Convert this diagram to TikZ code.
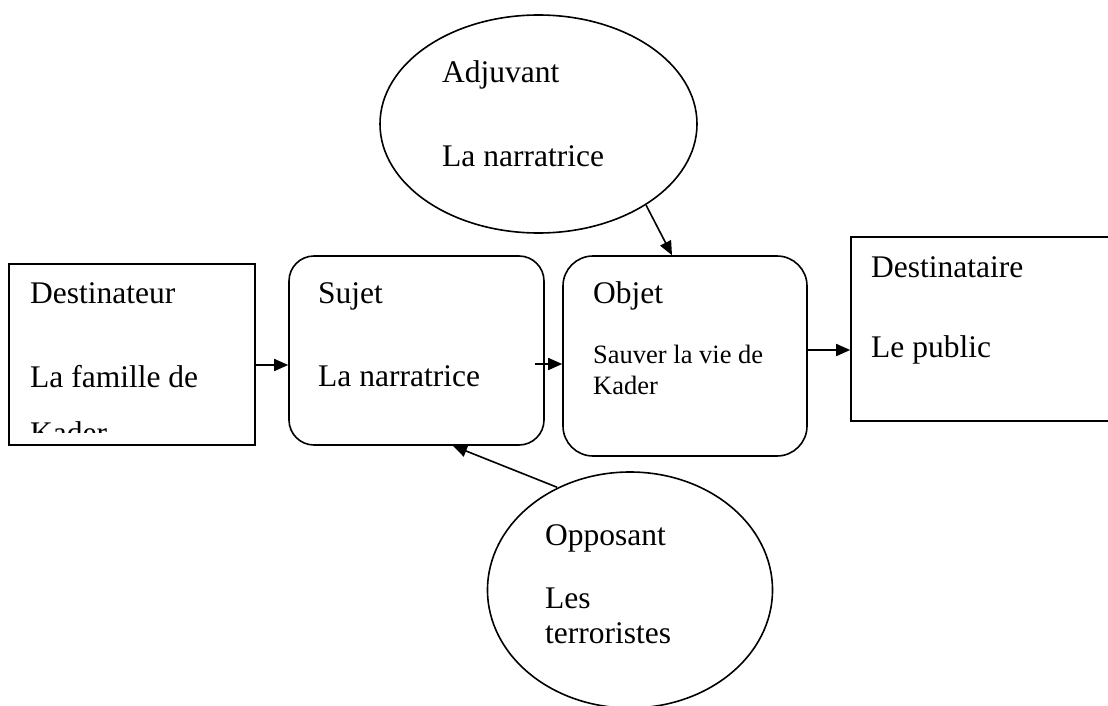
\documentclass[tikz,border=0pt]{standalone}
\usepackage{fontspec}
\setmainfont{Liberation Serif}
\usetikzlibrary{shapes.geometric,arrows.meta}
\begin{document}
\begin{tikzpicture}[x=1pt,y=-1pt,
  box/.style={draw,line width=1.6pt,rectangle,inner sep=0pt},
  rbox/.style={box,rounded corners=#1},
  oval/.style={draw,line width=1.6pt,ellipse,inner sep=0pt},
  lbl/.style={anchor=base west,inner sep=0pt,font=\fontsize{31.5}{38}\selectfont},
  slbl/.style={anchor=base west,inner sep=0pt,font=\fontsize{26.5}{32}\selectfont},
  arr/.style={line width=1.6pt,-{Triangle[length=14pt,width=12pt]}}]
\useasboundingbox (0,0) rectangle (1108,706);
\clip (0,0) rectangle (1108,706);

% shapes
\node[box,minimum width=246pt,minimum height=181pt] (destinateur) at (132,354.5) {};
\node[rbox=25pt,minimum width=255pt,minimum height=189pt] (sujet) at (416.5,350.5) {};
\node[rbox=30pt,minimum width=244pt,minimum height=200pt] (objet) at (685,356) {};
\node[box,minimum width=269pt,minimum height=184pt] (destinataire) at (985.5,329) {};
\node[oval,minimum width=317pt,minimum height=218pt] (adjuvant) at (538.5,124) {};
\node[oval,minimum width=285pt,minimum height=236pt] (opposant) at (630,590) {};

% texts
\node[lbl] (t1) at (30,303) {Destinateur};
\node[lbl] (t2) at (30,387) {La famille de};
\begin{scope}
  \clip (9,264) rectangle (255,432);
  \node[lbl] (t3) at (30,443) {Kader};
\end{scope}
\node[lbl] (t4) at (318,303) {Sujet};
\node[lbl] (t5) at (318,386) {La narratrice};
\node[lbl] (t6) at (593,303) {Objet};
\node[slbl] (t7) at (593,363) {Sauver la vie de};
\node[slbl] (t8) at (593,394) {Kader};
\node[lbl] (t9) at (871,277) {Destinataire};
\node[lbl] (t10) at (871,357) {Le public};
\node[lbl] (t11) at (442,83) {Adjuvant};
\node[lbl] (t12) at (442,166) {La narratrice};
\node[lbl] (t13) at (545,545) {Opposant};
\node[lbl] (t14) at (545,608) {Les};
\node[lbl] (t15) at (545,643) {terroristes};

% connectors
\coordinate (a1) at ([yshift=-10.5pt]destinateur.east);
\draw[arr] (a1) -- (a1 -| sujet.west);
\coordinate (a2) at ([xshift=-10pt,yshift=-13.5pt]sujet.east);
\draw[arr] (a2) -- (a2 -| objet.west);
\coordinate (a3) at ([yshift=6pt]objet.east);
\draw[arr] (a3) -- (a3 -| destinataire.west);
\draw[arr] (adjuvant.-37) -- ([xshift=-13pt]objet.north);
\draw[arr] ([xshift=-1pt]opposant.125) -- ([xshift=36.5pt]sujet.south);
\end{tikzpicture}
\end{document}
